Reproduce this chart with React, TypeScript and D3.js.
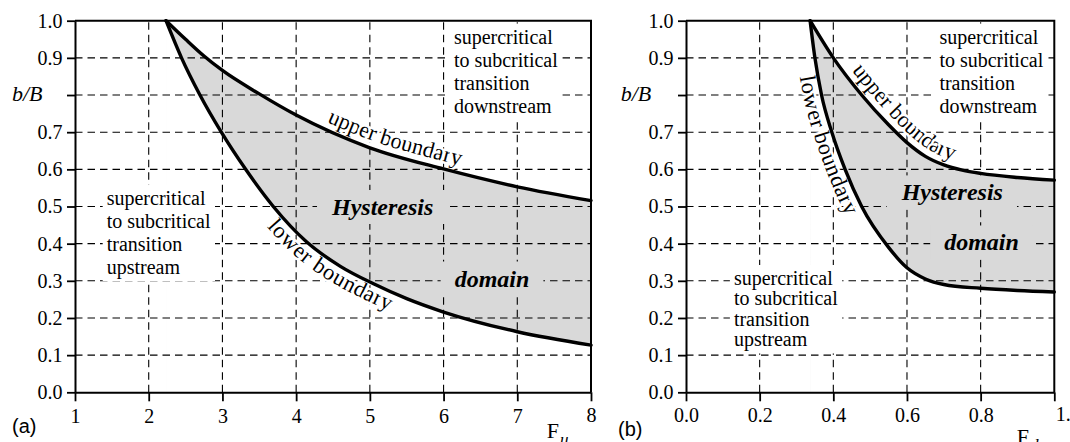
import React, { useEffect, useRef } from "react";
import * as d3 from "d3";

const bTicks = [0, 0.1, 0.2, 0.3, 0.4, 0.5, 0.6, 0.7, 0.8, 0.9, 1.0];
const bGrid = [0.1, 0.2, 0.3, 0.4, 0.5, 0.6, 0.7, 0.8, 0.9];
const fuTicks = [1, 2, 3, 4, 5, 6, 7, 8];
const fuGrid = [2, 3, 4, 5, 6, 7];
const fdTicks = [0, 0.2, 0.4, 0.6, 0.8, 1.0];
const fdGrid = [0.2, 0.4, 0.6, 0.8];

// [F, b/B]
const upperA = [[2.235, 1.0], [2.5, 0.95], [2.75, 0.905], [3.0, 0.866], [3.5, 0.803], [4.0, 0.746], [5.0, 0.658], [6.0, 0.601], [7.0, 0.553], [8.0, 0.516]];
const lowerA = [[2.235, 1.0], [2.445, 0.9], [2.695, 0.8], [2.985, 0.7], [3.315, 0.6], [3.69, 0.5], [4.14, 0.405], [4.6, 0.339], [5.05, 0.292], [5.5, 0.252], [6.0, 0.216], [7.0, 0.163], [8.0, 0.127]];
const upperB = [[0.337, 1.0], [0.4, 0.9], [0.477, 0.8], [0.55, 0.72], [0.6, 0.672], [0.65, 0.635], [0.7, 0.612], [0.75, 0.598], [0.8, 0.589], [0.9, 0.578], [1.0, 0.571]];
const lowerB = [[0.337, 1.0], [0.35, 0.9], [0.368, 0.8], [0.396, 0.7], [0.432, 0.6], [0.477, 0.5], [0.55, 0.39], [0.6, 0.335], [0.65, 0.305], [0.7, 0.29], [0.8, 0.28], [0.9, 0.274], [1.0, 0.27]];

const upstreamLines = ["supercritical", "to subcritical", "transition", "upstream"];
const downstreamLines = ["supercritical", "to subcritical", "transition", "downstream"];

const SERIF = "'Liberation Serif', 'Times New Roman', Times, serif";
const SANS = "'Liberation Sans', Arial, sans-serif";
const GRAY = "#d9d9d9";

const lengthAtX = (node, px) => {
  let lo = 0, hi = node.getTotalLength();
  for (let i = 0; i < 40; i++) {
    const m = (lo + hi) / 2;
    if (node.getPointAtLength(m).x < px) lo = m; else hi = m;
  }
  return lo;
};

function textBlock(layer, lines, xPx, yPx, lh, opts) {
  const t = layer.append("text")
    .attr("font-family", SERIF)
    .attr("font-size", opts.size || 20)
    .attr("font-style", opts.italic ? "italic" : null)
    .attr("font-weight", opts.bold ? "bold" : null)
    .attr("text-anchor", opts.anchor || "start")
    .attr("fill", "#000");
  lines.forEach((s, i) => t.append("tspan").attr("x", xPx).attr("y", yPx + i * lh).text(s));
  const bb = t.node().getBBox();
  const px = opts.padX == null ? 4 : opts.padX, py = opts.padY == null ? 2 : opts.padY;
  layer.insert("rect", () => t.node())
    .attr("x", bb.x - px).attr("y", bb.y - py)
    .attr("width", bb.width + 2 * px).attr("height", bb.height + 2 * py)
    .attr("fill", opts.bg);
}

function drawPanel(svg, p) {
  const { x, y } = p;
  const [x0, x1] = x.range();
  const line = d3.line().x(d => x(d[0])).y(d => y(d[1])).curve(d3.curveMonotoneX);
  const area = d3.area().x(d => x(d[0])).y0(y(0)).y1(d => y(d[1])).curve(d3.curveMonotoneX);

  const gFill = svg.append("g");
  const gGrid = svg.append("g");
  const gText = svg.append("g");
  const gCurve = svg.append("g");
  const gAxis = svg.append("g");

  gFill.append("path").datum(p.upper).attr("d", area).attr("fill", GRAY);
  gFill.append("path").datum(p.lower).attr("d", area).attr("fill", "#fff");

  bGrid.forEach(v => gGrid.append("line")
    .attr("x1", x0).attr("x2", x1).attr("y1", y(v)).attr("y2", y(v)));
  p.xGrid.forEach(v => gGrid.append("line")
    .attr("x1", x(v)).attr("x2", x(v)).attr("y1", y(0)).attr("y2", y(1)));
  gGrid.selectAll("line")
    .attr("stroke", "#000").attr("stroke-width", 1.1).attr("stroke-dasharray", "7.5,5");

  textBlock(gText, upstreamLines, x(p.up[0]), y(p.up[1]), p.up[2], { bg: "#fff" });
  textBlock(gText, downstreamLines, x(p.down[0]), y(p.down[1]), p.down[2], { bg: "#fff" });
  textBlock(gText, ["Hysteresis"], x(p.hyst[0]), y(p.hyst[1]), 0,
    { bg: GRAY, size: 24, bold: true, italic: true, anchor: "middle", padX: 14, padY: 4 });
  textBlock(gText, ["domain"], x(p.dom[0]), y(p.dom[1]), 0,
    { bg: GRAY, size: 24, bold: true, italic: true, anchor: "middle", padX: 14, padY: 4 });

  const curves = [
    { data: p.upper, id: p.id + "-up", label: "upper boundary", at: p.upLabel, dy: -7.5 },
    { data: p.lower, id: p.id + "-lo", label: "lower boundary", at: p.loLabel, dy: 18 },
  ];
  curves.forEach(c => {
    const path = gCurve.append("path").datum(c.data).attr("d", line)
      .attr("id", c.id)
      .attr("fill", "none").attr("stroke", "#000").attr("stroke-width", 3.4)
      .attr("stroke-linejoin", "round").attr("stroke-linecap", "round");
    const off = lengthAtX(path.node(), x(c.at));
    gText.append("text")
      .attr("font-family", SERIF).attr("font-size", 22.5).attr("dy", c.dy)
      .attr("fill", "#000").attr("stroke", "#fff").attr("stroke-width", 5)
      .attr("stroke-linejoin", "round").attr("paint-order", "stroke")
      .append("textPath").attr("href", "#" + c.id)
      .attr("startOffset", off).attr("text-anchor", "middle").text(c.label);
  });

  // frame
  gAxis.append("path")
    .attr("d", `M${x0},${y(1)}H${x1}V${y(0)}`)
    .attr("fill", "none").attr("stroke", "#000").attr("stroke-width", 2);

  const ax = gAxis.append("g").attr("transform", `translate(0,${y(0)})`)
    .call(d3.axisBottom(x).tickValues(p.xTicks).tickSize(9).tickSizeOuter(0).tickFormat(p.xFmt));
  ax.select(".domain").attr("stroke-width", 2);
  ax.selectAll(".tick line").attr("stroke-width", 1.8);
  ax.selectAll("text").attr("font-family", SERIF).attr("font-size", 20)
    .attr("fill", "#000").attr("dy", null).attr("y", p.xLabelY);
  const last = p.xTicks[p.xTicks.length - 1];
  ax.selectAll("text").filter(d => d === last).attr("y", p.xLabelY - 1.5)
    .attr("text-anchor", p.lastAnchor).attr("x", p.lastAnchor === "start" ? 1 : 0);

  const ay = gAxis.append("g").attr("transform", `translate(${x0},0)`)
    .call(d3.axisLeft(y).tickValues(bTicks).tickSize(8).tickSizeOuter(0).tickPadding(4.5)
      .tickFormat(d => d === 0.8 ? "" : d3.format(".1f")(d)));
  ay.select(".domain").attr("stroke-width", 2);
  ay.selectAll(".tick line").attr("stroke-width", 1.8);
  ay.selectAll("text").attr("font-family", SERIF).attr("font-size", 20).attr("fill", "#000");

  gAxis.append("text")
    .attr("x", x0 - p.bLabelDx).attr("y", y(0.8) + 5.5)
    .attr("font-family", SERIF).attr("font-style", "italic").attr("font-size", 22)
    .text("b/B");

  const xt = gAxis.append("text")
    .attr("x", x(p.fPos)).attr("y", y(0) + p.fDy)
    .attr("font-family", SERIF).attr("font-size", 22).text("F");
  xt.append("tspan").attr("dx", 1).attr("dy", 7)
    .attr("font-style", "italic").attr("font-size", 17).text(p.fSub);

  gAxis.append("text")
    .attr("x", x0 - p.tagDx).attr("y", y(0) + p.tagDy)
    .attr("font-family", SANS).attr("font-size", 20).text(p.tag);
}

export default function App() {
  const ref = useRef(null);

  useEffect(() => {
    const svg = d3.select(ref.current);
    svg.selectAll("*").remove();
    const y = d3.scaleLinear().domain([0, 1]).range([392.3, 20.7]);

    drawPanel(svg, {
      id: "pa", x: d3.scaleLinear().domain([1, 8]).range([75, 591]), y,
      upper: upperA, lower: lowerA, xTicks: fuTicks, xGrid: fuGrid,
      xFmt: d3.format("d"), xLabelY: 31, lastAnchor: "middle",
      up: [1.43, 0.504, 23], down: [6.14, 0.9385, 23],
      hyst: [5.174, 0.4771], dom: [6.657, 0.2847],
      upLabel: 5.27, loLabel: 4.5,
      bLabelDx: 63, fPos: 7.4, fDy: 45.7, fSub: "u",
      tag: "(a)", tagDx: 63, tagDy: 40.7,
    });

    drawPanel(svg, {
      id: "pb", x: d3.scaleLinear().domain([0, 1]).range([686, 1054.3]), y,
      upper: upperB, lower: lowerB, xTicks: fdTicks, xGrid: fdGrid,
      xFmt: d3.format(".1f"), xLabelY: 30, lastAnchor: "start",
      up: [0.13, 0.2888, 20.5], down: [0.688, 0.9385, 23],
      hyst: [0.7231, 0.5164], dom: [0.8024, 0.3816],
      upLabel: 0.56, loLabel: 0.405,
      bLabelDx: 65.3, fPos: 0.898, fDy: 51.7, fSub: "d",
      tag: "(b)", tagDx: 68, tagDy: 43.7,
    });
  }, []);

  return (
    <svg ref={ref} width={1070} height={442}
      style={{ position: "absolute", left: 0, top: 0, display: "block", background: "#fff" }} />
  );
}
